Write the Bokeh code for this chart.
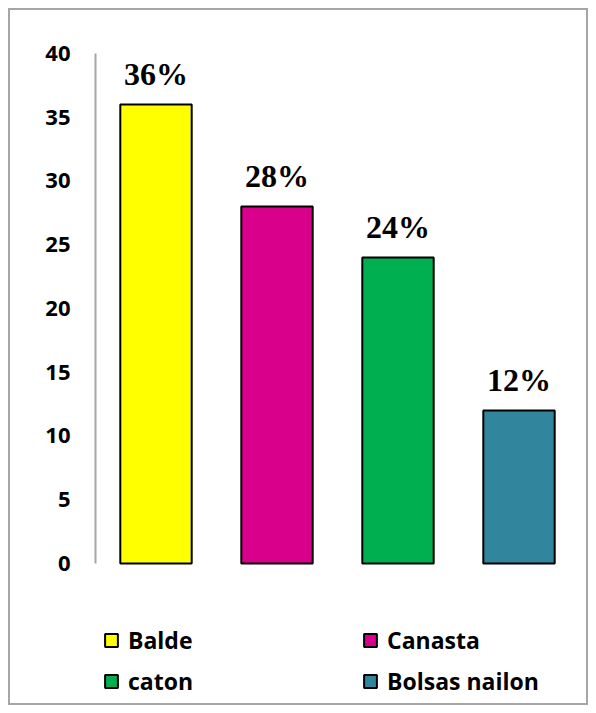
from bokeh.plotting import figure
from bokeh.models import ColumnDataSource, FactorRange, Range1d, FixedTicker, Legend, LegendItem
from bokeh.core.properties import value
from bokeh.embed import file_html
from bokeh.resources import INLINE

categories = ["Balde", "Canasta", "caton", "Bolsas nailon"]
counts = [36, 28, 24, 12]
colors = ["#FFFF00", "#D9008C", "#00B050", "#31859C"]
pct_labels = [f"{v}%" for v in counts]
y_ticks = [0, 5, 10, 15, 20, 25, 30, 35, 40]

source = ColumnDataSource(dict(cat=categories, val=counts, color=colors, lab=pct_labels))

# frame extends below zero to host the legend (0 sits at 563px, 40 at 53px)
p = figure(x_range=FactorRange(*categories, range_padding=0), y_range=Range1d(-10.75, 40),
           width=580, height=697, output_backend="svg", toolbar_location=None,
           min_border_left=85, min_border_right=11, min_border_top=43, min_border_bottom=7)
p.styles = {"border": "2px solid #a6a6a6", "margin-left": "8px", "margin-top": "8px"}
p.outline_line_color = None
p.xgrid.grid_line_color = None
p.ygrid.grid_line_color = None
p.xaxis.visible = False

p.yaxis.ticker = FixedTicker(ticks=y_ticks)
p.yaxis.bounds = (0, 40)
p.yaxis.major_tick_line_color = None
p.yaxis.minor_tick_line_color = None
p.yaxis.axis_line_color = "#a6a6a6"
p.yaxis.axis_line_width = 2
p.yaxis.major_label_standoff = 19
p.yaxis.major_label_text_font = "Open Sans"
p.yaxis.major_label_text_font_style = "bold"
p.yaxis.major_label_text_font_size = "22px"
p.yaxis.major_label_text_color = "black"

bars = p.vbar(x="cat", top="val", width=0.59, source=source, fill_color="color",
              line_color="black", line_width=2)

p.text(x="cat", y="val", text="lab", source=source, text_align="center",
       text_baseline="bottom", y_offset=-12, text_font=value("Liberation Serif"),
       text_font_style="bold", text_font_size="32px", text_color="black")

def make_legend(idxs, x):
    items = [LegendItem(label=categories[i], renderers=[bars], index=i) for i in idxs]
    return Legend(items=items, location=(x, 3), orientation="vertical",
                  glyph_width=16, glyph_height=16, label_height=16, spacing=9,
                  padding=0, margin=0, label_standoff=9,
                  label_text_font="Open Sans", label_text_font_style="bold",
                  label_text_font_size="23px", label_text_color="black",
                  background_fill_alpha=0, border_line_color=None)

p.add_layout(make_legend([0, 2], 8))
p.add_layout(make_legend([1, 3], 267))

open("out.html", "w").write(file_html(p, INLINE))
